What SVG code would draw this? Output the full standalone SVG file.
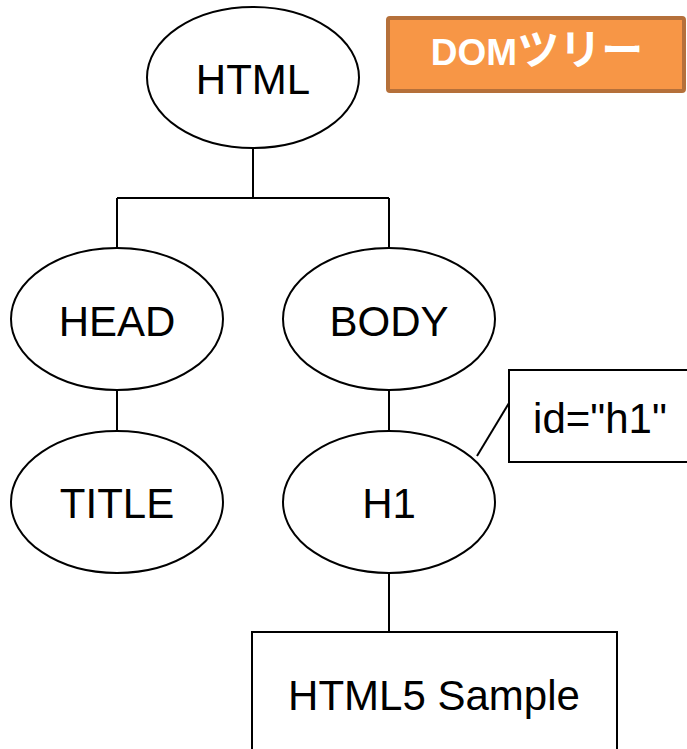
<svg xmlns="http://www.w3.org/2000/svg" width="687" height="749" viewBox="0 0 687 749">
<style>
.node{fill:#fff;stroke:#000;stroke-width:2}
.lbl{font-family:"Liberation Sans",Arial,sans-serif;font-size:42px;fill:#000;text-anchor:middle}
.conn{fill:none;stroke:#000;stroke-width:2}
</style>
<rect width="687" height="749" fill="#fff"/>
<g id="connectors">
<path class="conn" d="M253,148 V198 M117,198 H389 M117,198 V248 M389,198 V248"/>
<path class="conn" d="M117,390 V431 M389,390 V431 M389,573 V632"/>
<path class="conn" d="M477,456 L509,403"/>
</g>
<g id="html"><ellipse class="node" cx="253" cy="77.5" rx="106" ry="70.5"/><text class="lbl" x="253" y="94">HTML</text></g>
<g id="head"><ellipse class="node" cx="117" cy="319" rx="106" ry="71"/><text class="lbl" x="117" y="336">HEAD</text></g>
<g id="body"><ellipse class="node" cx="389" cy="319" rx="106" ry="71"/><text class="lbl" x="389" y="336">BODY</text></g>
<g id="title"><ellipse class="node" cx="117" cy="502" rx="106" ry="71"/><text class="lbl" x="117" y="518">TITLE</text></g>
<g id="h1"><ellipse class="node" cx="389" cy="502" rx="106" ry="71"/><text class="lbl" x="389" y="518">H1</text></g>
<g id="attr"><rect class="node" x="509" y="370" width="190" height="92"/><text class="lbl" x="600" y="433">id="h1"</text></g>
<g id="textnode"><rect class="node" x="252" y="632" width="365" height="130"/><text class="lbl" x="434" y="710">HTML5 Sample</text></g>
<g id="badge"><rect x="388" y="18" width="296" height="73" rx="2" fill="#F79646" stroke="#B5703A" stroke-width="4"/><text x="537" y="65" text-anchor="middle" fill="#fff" font-weight="bold" font-size="37" font-family="'Liberation Sans','Noto Sans CJK JP',sans-serif">DOM<tspan font-size="42">ツリー</tspan></text></g>
</svg>
